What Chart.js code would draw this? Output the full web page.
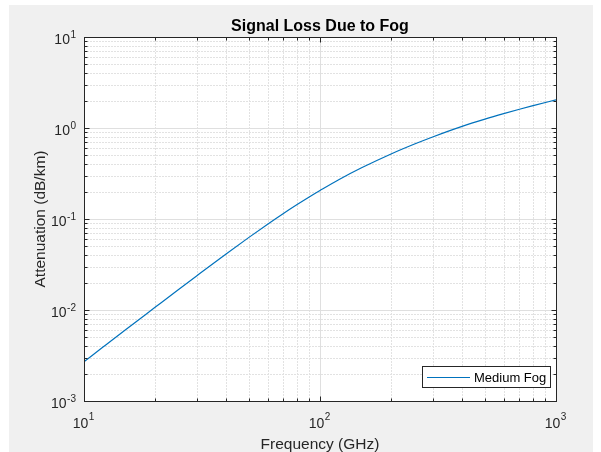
<!DOCTYPE html>
<html>
<head>
<meta charset="utf-8">
<script src="https://cdn.jsdelivr.net/npm/chart.js@4.4.1/dist/chart.umd.min.js"></script>
<style>
  html, body { margin: 0; padding: 0; background: #fff; }
  canvas { display: block; }
</style>
</head>
<body>
<canvas id="chartFog" width="601" height="452"></canvas>
<script>
// values
const frequency = [10, 12, 15, 20, 25, 30, 40, 50, 60, 70, 80, 90, 100, 120, 150, 200, 250, 300, 400, 500, 600, 700, 800, 1000];
const mediumFog = [0.0027, 0.00389, 0.00607, 0.0107, 0.0166, 0.0237, 0.0413, 0.0628, 0.0876, 0.115, 0.144, 0.1745, 0.2055, 0.270, 0.365, 0.518, 0.662, 0.797, 1.042, 1.251, 1.437, 1.606, 1.759, 2.04];
const xTicks = [10, 100, 1000];
const yTicks = [0.001, 0.01, 0.1, 1, 10];
const chartTitle = 'Signal Loss Due to Fog';
const xTitle = 'Frequency (GHz)';
const yTitle = 'Attenuation (dB/km)';
const seriesName = 'Medium Fog';

const lineColor = '#0072BD';
const axisColor = '#262626';
const font = '"Liberation Sans", Arial, sans-serif';

// 2..9 between each pair of decades
function minorValues(decades) {
  const out = [];
  for (let i = 0; i < decades.length - 1; i++) {
    for (let m = 2; m <= 9; m++) out.push(decades[i] * m);
  }
  return out;
}

function powLabel(value) {
  const e = Math.round(Math.log10(value));
  return { base: '10', exp: String(e) };
}

const matlabAxes = {
  id: 'matlabAxes',
  beforeDraw(chart) {
    const ctx = chart.ctx, a = chart.chartArea;
    const xs = chart.scales.x, ys = chart.scales.y;
    ctx.save();
    ctx.fillStyle = '#ffffff';
    ctx.fillRect(0, 0, chart.width, chart.height);
    ctx.fillStyle = '#f0f0f0';
    ctx.fillRect(9, 5, 584, 447);
    ctx.fillStyle = '#ffffff';
    ctx.fillRect(a.left, a.top, a.right - a.left, a.bottom - a.top);

    // minor grid, dotted
    ctx.strokeStyle = '#e2e2e2';
    ctx.lineWidth = 1;
    ctx.setLineDash([2, 1]);
    ctx.beginPath();
    minorValues(xTicks).forEach(v => {
      const px = Math.round(xs.getPixelForValue(v)) + 0.5;
      ctx.moveTo(px, a.top); ctx.lineTo(px, a.bottom);
    });
    minorValues(yTicks).forEach(v => {
      const py = Math.round(ys.getPixelForValue(v)) + 0.5;
      ctx.moveTo(a.left, py); ctx.lineTo(a.right, py);
    });
    ctx.stroke();

    // major grid, solid
    ctx.setLineDash([]);
    ctx.strokeStyle = '#dfdfdf';
    ctx.beginPath();
    xTicks.forEach(v => {
      const px = Math.round(xs.getPixelForValue(v)) + 0.5;
      ctx.moveTo(px, a.top); ctx.lineTo(px, a.bottom);
    });
    yTicks.forEach(v => {
      const py = Math.round(ys.getPixelForValue(v)) + 0.5;
      ctx.moveTo(a.left, py); ctx.lineTo(a.right, py);
    });
    ctx.stroke();
    ctx.restore();
  },
  afterDatasetsDraw(chart) {
    const ctx = chart.ctx, a = chart.chartArea;
    const xs = chart.scales.x, ys = chart.scales.y;
    const L = a.left + 0.5, R = a.right + 0.5, T = a.top + 0.5, B = a.bottom + 0.5;
    ctx.save();

    // ticks on all four sides
    ctx.strokeStyle = axisColor;
    ctx.lineWidth = 1;
    ctx.beginPath();
    const xt = (v, len) => {
      const px = Math.round(xs.getPixelForValue(v)) + 0.5;
      ctx.moveTo(px, B); ctx.lineTo(px, B - len);
      ctx.moveTo(px, T); ctx.lineTo(px, T + len);
    };
    const yt = (v, len) => {
      const py = Math.round(ys.getPixelForValue(v)) + 0.5;
      ctx.moveTo(L, py); ctx.lineTo(L + len, py);
      ctx.moveTo(R, py); ctx.lineTo(R - len, py);
    };
    xTicks.forEach(v => xt(v, 5));
    minorValues(xTicks).forEach(v => xt(v, 3));
    yTicks.forEach(v => yt(v, 5));
    minorValues(yTicks).forEach(v => yt(v, 3));
    ctx.stroke();

    // axes box
    ctx.strokeRect(L, T, a.right - a.left, a.bottom - a.top);

    // tick labels 10^n
    ctx.fillStyle = axisColor;
    ctx.textBaseline = 'alphabetic';
    ctx.textAlign = 'left';
    const baseFont = '14px ' + font, expFont = '10px ' + font;
    yTicks.forEach(v => {
      const lab = powLabel(v);
      const py = ys.getPixelForValue(v);
      ctx.font = expFont;
      const we = ctx.measureText(lab.exp).width;
      ctx.font = baseFont;
      const wb = ctx.measureText(lab.base).width;
      const right = a.left - 8;
      ctx.fillText(lab.base, right - we - wb - 0.5, py + 7);
      ctx.font = expFont;
      ctx.fillText(lab.exp, right - we, py + 0.5);
    });
    xTicks.forEach(v => {
      const lab = powLabel(v);
      const px = xs.getPixelForValue(v);
      ctx.font = expFont;
      const we = ctx.measureText(lab.exp).width;
      ctx.font = baseFont;
      const wb = ctx.measureText(lab.base).width;
      const start = px - (wb + we + 0.5) / 2 - 0.5;
      ctx.fillText(lab.base, start, 427.5);
      ctx.font = expFont;
      ctx.fillText(lab.exp, start + wb + 0.5, 420);
    });

    // title and axis labels
    const cx = (a.left + a.right) / 2, cy = (a.top + a.bottom) / 2;
    ctx.textAlign = 'center';
    ctx.fillStyle = '#000000';
    ctx.font = 'bold 16px ' + font;
    ctx.fillText(chartTitle, cx, 30.5);
    ctx.fillStyle = axisColor;
    ctx.font = '15.5px ' + font;
    ctx.fillText(xTitle, cx, 448.5);
    ctx.save();
    ctx.translate(45, cy);
    ctx.rotate(-Math.PI / 2);
    ctx.fillText(yTitle, 0, 0);
    ctx.restore();

    // legend box
    ctx.fillStyle = '#ffffff';
    ctx.fillRect(422.5, 366.5, 128, 21);
    ctx.strokeStyle = axisColor;
    ctx.strokeRect(422.5, 366.5, 128, 21);
    ctx.strokeStyle = lineColor;
    ctx.beginPath();
    ctx.moveTo(427, 377.5); ctx.lineTo(470, 377.5);
    ctx.stroke();
    ctx.fillStyle = '#000000';
    ctx.textAlign = 'left';
    ctx.font = '13px ' + font;
    ctx.fillText(seriesName, 474, 382);

    ctx.restore();
  }
};

const points = frequency.map((f, i) => ({ x: f, y: mediumFog[i] }));

new Chart(document.getElementById('chartFog').getContext('2d'), {
  type: 'line',
  data: {
    datasets: [{
      label: seriesName,
      data: points,
      borderColor: lineColor,
      borderWidth: 1.2,
      pointRadius: 0,
      fill: false,
      cubicInterpolationMode: 'monotone'
    }]
  },
  options: {
    responsive: false,
    animation: false,
    layout: { padding: { left: 0, top: 37, right: 45, bottom: 0 } },
    plugins: { legend: { display: false }, title: { display: false }, tooltip: { enabled: false } },
    scales: {
      x: {
        type: 'logarithmic', min: 10, max: 1000,
        grid: { display: false }, border: { display: false },
        ticks: { display: false },
        afterFit(s) { s.height = 51; }
      },
      y: {
        type: 'logarithmic', min: 0.001, max: 10,
        grid: { display: false }, border: { display: false },
        ticks: { display: false },
        afterFit(s) { s.width = 84; }
      }
    }
  },
  plugins: [matlabAxes]
});
</script>
</body>
</html>
